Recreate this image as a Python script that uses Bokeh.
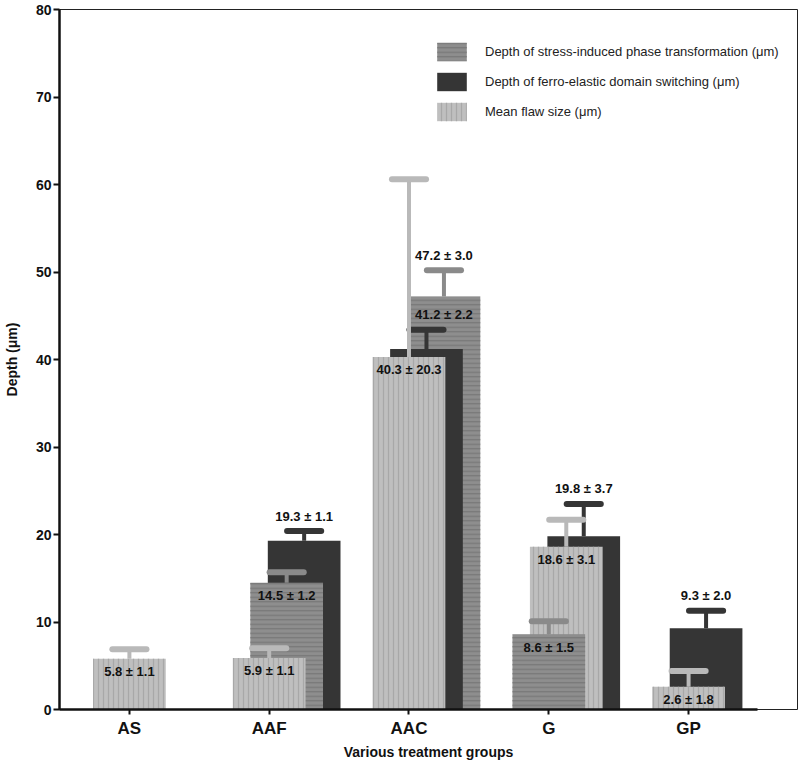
from bokeh.plotting import figure
from bokeh.models import ColumnDataSource, Range1d, FixedTicker, Legend, LegendItem
from bokeh.core.properties import value
from bokeh.embed import file_html
from bokeh.resources import INLINE

# ---------------- data ----------------
categories = ["AS", "AAF", "AAC", "G", "GP"]
phase_depth = [None, 14.5, 47.2, 8.6, None]
phase_sd = [None, 1.2, 3.0, 1.5, None]
ferro_depth = [None, 19.3, 41.2, 19.8, 9.3]
ferro_sd = [None, 1.1, 2.2, 3.7, 2.0]
flaw_size = [5.8, 5.9, 40.3, 18.6, 2.6]
flaw_sd = [1.1, 1.1, 20.3, 3.1, 1.8]
y_ticks = [0, 10, 20, 30, 40, 50, 60, 70, 80]
series_labels = [
    "Depth of stress-induced phase transformation (\u03bcm)",
    "Depth of ferro-elastic domain switching (\u03bcm)",
    "Mean flaw size (\u03bcm)",
]
x_title = "Various treatment groups"
y_title = "Depth (\u03bcm)"

# ---------------- style ----------------
FONT = "Liberation Sans"
W, H = 798, 762
BT, BB, BL, BR = 9, 53, 58, 1
PX = (H - BT - BB) / 80.0          # px per data unit (y)
X0, X1 = -0.5, 4.779
BAR_W = 0.52
STEP = 0.125
CAP_HALF = 0.122

STYLE = {
    "phase": dict(fill="#8e8e8e", hatch="horizontal_line", hcol="#787878", hscale=4.5, err="#8a8a8a"),
    "ferro": dict(fill="#353535", hatch=" ", hcol="#353535", hscale=5.0, err="#353535"),
    "flaw": dict(fill="#bfbfbf", hatch="vertical_line", hcol="#a8a8a8", hscale=5.0, err="#b9b9b9"),
}
series = [
    ("phase", phase_depth, phase_sd, series_labels[0]),
    ("ferro", ferro_depth, ferro_sd, series_labels[1]),
    ("flaw", flaw_size, flaw_sd, series_labels[2]),
]

# ---------------- arrange bars ----------------
# within a group: shortest bar in front (leftmost), taller bars stepped right and behind
bars = []
for gi, cat in enumerate(categories):
    present = [(key, vals[gi], sds[gi]) for key, vals, sds, _ in series if vals[gi] is not None]
    present.sort(key=lambda t: t[1])
    n = len(present)
    tallest_x = gi + (n - 1) * STEP
    for rank, (key, v, sd) in enumerate(present):
        x = gi + rank * STEP
        is_max = rank == n - 1
        above = key == "ferro" or (key == "phase" and is_max)
        bars.append(dict(x=x, top=v, sd=sd, key=key, depth=n - 1 - rank,
                         above=above, is_max=is_max, tallest_x=tallest_x))

p = figure(width=W, height=H, x_range=Range1d(X0, X1), y_range=Range1d(0, 80),
           output_backend="svg", toolbar_location=None,
           min_border_left=BL, min_border_right=BR, min_border_top=BT, min_border_bottom=BB)
p.xgrid.visible = False
p.ygrid.visible = False
p.outline_line_color = "#222222"
p.outline_line_width = 1
p.background_fill_color = "white"
p.border_fill_color = "white"

# bars, back (tallest) to front
legend_ref = {}
for depth in [0, 1, 2]:
    sel = [b for b in bars if b["depth"] == depth]
    if not sel:
        continue
    src = ColumnDataSource(dict(
        x=[b["x"] for b in sel], top=[b["top"] for b in sel],
        fill=[STYLE[b["key"]]["fill"] for b in sel],
        hatch=[STYLE[b["key"]]["hatch"] for b in sel],
        hcol=[STYLE[b["key"]]["hcol"] for b in sel],
        hscale=[STYLE[b["key"]]["hscale"] for b in sel],
    ))
    r = p.vbar(x="x", top="top", bottom=0, width=BAR_W, source=src, fill_color="fill",
               line_color=None, hatch_pattern="hatch", hatch_color="hcol",
               hatch_scale="hscale", hatch_weight=1.3)
    for i, b in enumerate(sel):
        legend_ref.setdefault(b["key"], (r, i))

# error bars (upper only), back to front
for depth in [0, 1, 2]:
    sel = [b for b in bars if b["depth"] == depth]
    if not sel:
        continue
    src = ColumnDataSource(dict(
        x=[b["x"] for b in sel], top=[b["top"] for b in sel],
        hi=[b["top"] + b["sd"] for b in sel],
        x0=[b["x"] - CAP_HALF for b in sel], x1=[b["x"] + CAP_HALF for b in sel],
        col=[STYLE[b["key"]]["err"] for b in sel],
    ))
    p.segment(x0="x", y0="top", x1="x", y1="hi", source=src, line_color="col", line_width=4)
    p.segment(x0="x0", y0="hi", x1="x1", y1="hi", source=src, line_color="col",
              line_width=6, line_cap="round")

# value labels
lx, ly, lt = [], [], []
for b in bars:
    txt = "%.1f \u00b1 %.1f" % (b["top"], b["sd"])
    if b["above"]:
        lx.append(b["x"] if b["is_max"] else b["tallest_x"])
        ly.append(b["top"] + b["sd"] + 15.0 / PX)
    else:
        lx.append(b["x"])
        ly.append(b["top"] - 13.0 / PX)
    lt.append(txt)
p.text(x=lx, y=ly, text=lt, text_font=value(FONT), text_font_style="bold",
       text_font_size="13px", text_color="#111111", text_align="center",
       text_baseline="middle")

# legend
items = []
for key, _, _, lab in series:
    r, idx = legend_ref[key]
    items.append(LegendItem(label=lab, renderers=[r], index=idx))
legend = Legend(items=items, location=(374, 586), orientation="vertical",
                glyph_width=37, glyph_height=23, label_height=23, label_standoff=15,
                spacing=7, padding=0, margin=0, border_line_color=None,
                background_fill_alpha=0, label_text_font=FONT,
                label_text_font_size="13px", label_text_color="#222222")
p.add_layout(legend)

# axes
xa = p.xaxis[0]
xa.ticker = FixedTicker(ticks=list(range(len(categories))))
xa.major_label_overrides = {i: c for i, c in enumerate(categories)}
xa.axis_line_width = 2.5
xa.axis_line_color = "#111111"
xa.major_tick_line_width = 2
xa.major_tick_line_color = "#111111"
xa.major_tick_out = 5
xa.major_tick_in = 0
xa.minor_tick_out = 0
xa.minor_tick_in = 0
xa.major_label_standoff = 4
xa.major_label_text_font = FONT
xa.major_label_text_font_style = "bold"
xa.major_label_text_font_size = "17px"
xa.major_label_text_color = "#111111"
xa.bounds = (X0, 4.493)
xa.axis_label = x_title
xa.axis_label_text_font = FONT
xa.axis_label_text_font_style = "bold"
xa.axis_label_text_font_size = "14px"
xa.axis_label_text_color = "#111111"
xa.axis_label_standoff = 3

ya = p.yaxis[0]
ya.ticker = FixedTicker(ticks=y_ticks)
ya.axis_line_width = 2.5
ya.axis_line_color = "#111111"
ya.major_tick_line_width = 2
ya.major_tick_line_color = "#111111"
ya.major_tick_out = 6
ya.major_tick_in = 0
ya.minor_tick_out = 0
ya.minor_tick_in = 0
ya.major_label_standoff = 2
ya.major_label_text_font = FONT
ya.major_label_text_font_style = "bold"
ya.major_label_text_font_size = "14px"
ya.major_label_text_color = "#111111"
ya.axis_label = y_title
ya.axis_label_text_font = FONT
ya.axis_label_text_font_style = "bold"
ya.axis_label_text_font_size = "14px"
ya.axis_label_text_color = "#111111"
ya.axis_label_standoff = 13

open("out.html", "w").write(file_html(p, INLINE))
